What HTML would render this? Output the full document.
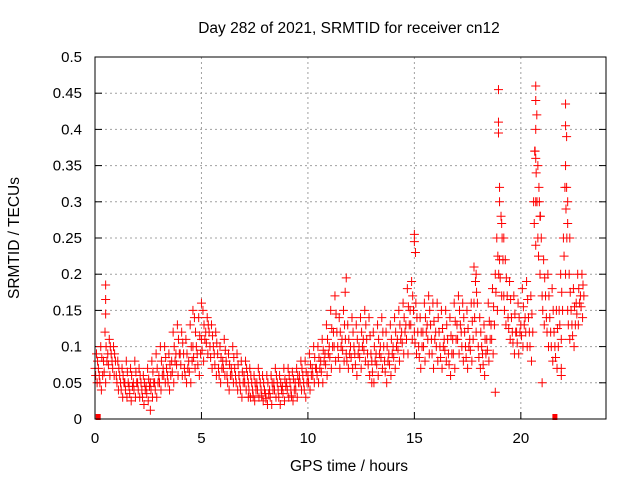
<!DOCTYPE html>
<html><head><meta charset="utf-8"><style>
body{margin:0;background:#fff;}
svg{display:block;font-family:"Liberation Sans",sans-serif;}
</style></head><body>
<svg id="chart" width="640" height="480">
<text x="349" y="33" text-anchor="middle" font-size="15.5">Day 282 of 2021, SRMTID for receiver cn12</text>
<text x="349" y="471" text-anchor="middle" font-size="15.5">GPS time / hours</text>
<text transform="translate(19,238) rotate(-90)" text-anchor="middle" font-size="15.5">SRMTID / TECUs</text>
<g id="grid"></g><g id="ticks"></g><g id="marks"></g>
<rect x="95" y="57" width="511" height="362" fill="none" stroke="#000"/>
</svg>
<script>
const xTicks=[0,5,10,15,20];
const yTicks=[0,0.05,0.1,0.15,0.2,0.25,0.3,0.35,0.4,0.45,0.5];
const yTickLabels=["0","0.05","0.1","0.15","0.2","0.25","0.3","0.35","0.4","0.45","0.5"];
const tStep=0.2;
const mid=[.07,.06,.08,.09,.08,.06,.05,.05,.045,.05,.05,.04,.045,.05,.05,.06,.07,.06,.08,.09,.09,.07,.08,.1,.09,.11,.12,.1,.09,.07,.08,.06,.07,.06,.05,.06,.05,.04,.05,.04,.035,.04,.05,.04,.045,.05,.04,.05,.06,.05,.06,.07,.07,.08,.09,.1,.12,.1,.11,.09,.1,.09,.1,.11,.09,.08,.09,.1,.08,.09,.1,.11,.12,.13,.15,.12,.1,.12,.13,.11,.12,.1,.11,.09,.11,.13,.12,.1,.11,.16,.1,.09,.11,.13,.2,.22,.17,.14,.12,.12,.13,.14,.12,.3,.25,.17,.14,.12,.1,.15,.25,.15,.13,.16,.17];
const hi=[.09,.1,.12,.11,.1,.08,.07,.08,.07,.08,.07,.06,.07,.08,.09,.1,.1,.09,.12,.13,.12,.11,.13,.14,.14,.15,.14,.13,.12,.1,.11,.09,.1,.09,.08,.08,.07,.06,.07,.06,.06,.06,.07,.06,.07,.07,.065,.07,.08,.08,.09,.1,.1,.11,.13,.15,.17,.14,.15,.13,.14,.13,.14,.15,.14,.12,.13,.14,.12,.13,.14,.15,.16,.18,.19,.16,.14,.16,.17,.16,.16,.15,.15,.14,.16,.17,.16,.15,.16,.19,.14,.13,.16,.18,.25,.28,.22,.19,.17,.16,.18,.19,.17,.37,.3,.22,.2,.18,.15,.2,.32,.2,.18,.2,.2];
const lo=[.05,.04,.05,.06,.06,.04,.03,.03,.025,.03,.03,.02,.025,.03,.03,.04,.05,.04,.05,.06,.06,.05,.05,.07,.06,.08,.09,.07,.06,.05,.06,.04,.05,.04,.03,.04,.03,.025,.03,.025,.02,.02,.03,.02,.025,.03,.025,.03,.04,.03,.04,.05,.05,.05,.06,.07,.08,.07,.08,.07,.07,.06,.07,.08,.06,.05,.06,.07,.05,.06,.07,.08,.09,.09,.11,.09,.07,.08,.09,.07,.08,.07,.08,.06,.07,.09,.08,.07,.08,.12,.07,.06,.08,.09,.15,.17,.13,.11,.09,.09,.1,.1,.08,.24,.2,.13,.1,.08,.07,.11,.2,.11,.1,.13,.14];
const q3=[.08,.085,.1,.1,.09,.07,.06,.065,.06,.065,.06,.05,.055,.065,.07,.08,.085,.075,.1,.11,.105,.09,.1,.12,.115,.13,.13,.115,.105,.085,.095,.075,.085,.075,.065,.07,.06,.05,.06,.05,.05,.05,.06,.05,.055,.06,.055,.06,.07,.065,.075,.085,.085,.095,.11,.125,.145,.12,.13,.11,.12,.11,.12,.13,.115,.1,.11,.12,.1,.11,.12,.13,.14,.155,.17,.14,.12,.14,.15,.135,.14,.125,.13,.115,.135,.15,.14,.125,.135,.175,.12,.11,.135,.155,.225,.25,.195,.165,.145,.14,.155,.165,.145,.34,.28,.195,.17,.15,.125,.175,.29,.175,.155,.18,.185];
const q1=[.06,.05,.065,.075,.07,.05,.04,.04,.035,.04,.04,.03,.035,.04,.04,.05,.06,.05,.065,.075,.075,.06,.065,.085,.075,.095,.105,.085,.075,.06,.07,.05,.06,.05,.04,.05,.04,.032,.04,.032,.028,.03,.04,.03,.035,.04,.032,.04,.05,.04,.05,.06,.06,.065,.075,.085,.1,.085,.095,.08,.085,.075,.085,.095,.075,.065,.075,.085,.065,.075,.085,.095,.105,.11,.13,.105,.085,.1,.11,.09,.1,.085,.095,.075,.09,.11,.1,.085,.095,.14,.085,.075,.095,.11,.175,.195,.15,.125,.105,.105,.115,.12,.1,.27,.225,.15,.12,.1,.085,.13,.225,.13,.115,.145,.155];
const spikeT=[0.5,0.5,0.5,15.0,15.0,15.05,17.8,17.9,18.95,18.95,18.95,19.0,19.0,19.1,19.2,20.7,20.7,20.75,20.7,20.65,20.7,20.8,20.85,20.7,20.9,22.1,22.1,22.15,22.1,22.15,22.2,22.2,22.3,18.8,21.0,21.9,21.9,11.8,11.75,5.0,4.6,13.0,7.2,2.6];
const spikeV=[0.185,0.165,0.145,0.255,0.245,0.23,0.21,0.2,0.455,0.41,0.395,0.32,0.3,0.27,0.25,0.46,0.44,0.42,0.4,0.37,0.36,0.35,0.32,0.3,0.28,0.435,0.405,0.39,0.35,0.32,0.3,0.27,0.25,0.037,0.05,0.06,0.07,0.195,0.175,0.16,0.15,0.05,0.03,0.012];
const gapT=[0.15,21.6];

const NS="http://www.w3.org/2000/svg";
const X=t=>95+t*(511/24);
const Y=v=>419-v*(362/0.5);
function mk(tag,attrs,parent){const e=document.createElementNS(NS,tag);for(const k in attrs)e.setAttribute(k,attrs[k]);parent.appendChild(e);return e;}
const grid=document.getElementById('grid'),ticks=document.getElementById('ticks'),marks=document.getElementById('marks');
xTicks.forEach(t=>{
  if(t>0){const g=mk('line',{x1:X(t),x2:X(t),y1:57,y2:419,stroke:'#a0a0a0','stroke-dasharray':'2,3'},grid);
  
  }
  mk('line',{x1:X(t),x2:X(t),y1:419,y2:412,stroke:'#000'},ticks);
  const l=mk('text',{x:X(t),y:443,'text-anchor':'middle','font-size':15},ticks);l.textContent=t;
  
  
});
yTicks.forEach((v,i)=>{
  if(v>0&&v<0.5){const g=mk('line',{x1:95,x2:606,y1:Y(v),y2:Y(v),stroke:'#a0a0a0','stroke-dasharray':'2,3'},grid);
  
  }
  mk('line',{x1:95,x2:102,y1:Y(v),y2:Y(v),stroke:'#000'},ticks);
  mk('line',{x1:606,x2:599,y1:Y(v),y2:Y(v),stroke:'#000'},ticks);
  const l=mk('text',{x:82,y:Y(v)+5,'text-anchor':'end','font-size':15},ticks);l.textContent=yTickLabels[i];
  
  
});
function plus(t,v){
  if(v===undefined)return;
  const x=X(t),y=Y(v);
  const p=mk('path',{d:`M${x-4.5},${y}h9M${x},${y-4.5}v9`,stroke:'#ff0000','stroke-width':1,fill:'none'},marks);
  
  
}
mid.forEach((v,i)=>{
  const t=i*tStep;
  plus(t+0.1,lo[i]);
  plus(t+0.03,q1[i]);
  plus(t,v);
  plus(t+0.12,q3[i]);
  plus(t+0.07,hi[i]);
  plus(t+0.16,v);
});
spikeT.forEach((t,i)=>plus(t,spikeV[i]));
gapT.forEach(t=>{
  const r=mk('rect',{x:X(t)-2.5,y:414,width:5,height:6,fill:'#ff0000'},marks);
  
  
});
</script>
</body></html>
